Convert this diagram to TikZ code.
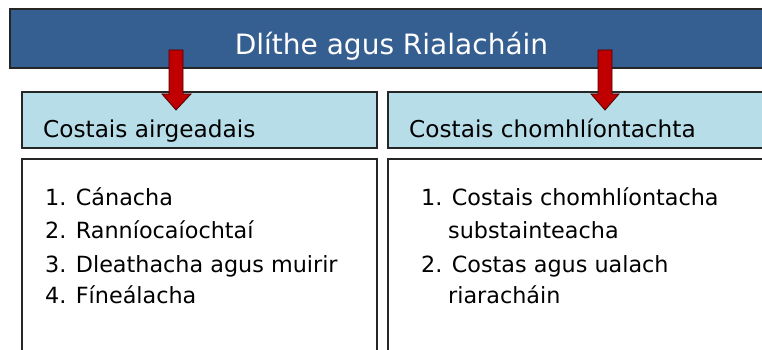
\documentclass[tikz,border=0pt]{standalone}
\usepackage{fontspec}
\setmainfont{DejaVu Sans}
\definecolor{banner}{HTML}{365F91}
\definecolor{hdr}{HTML}{B7DDE8}
\definecolor{arrred}{HTML}{C00000}
\begin{document}
\begin{tikzpicture}[x=1pt,y=-1pt,
  boxline/.style={draw=black!85,line width=1.2pt},
  listtxt/.style={anchor=base west,inner sep=0pt,font=\fontsize{22.3}{26}\selectfont},
  hdrtxt/.style={anchor=base west,inner sep=0pt,font=\fontsize{23.2}{27}\selectfont},
  blockarrow/.style={fill=arrred,draw=black!70!red,line width=0.8pt,line join=miter}]
\useasboundingbox (0,0) rectangle (762,350);
% banner
\fill[banner] (10,9) rectangle (775,68);
\draw[boxline] (775,9) -- (10,9) -- (10,68) -- (775,68);
\node[anchor=base,inner sep=0pt,text=white,font=\fontsize{28}{33}\selectfont] (title) at (391.5,55) {Dlíthe agus Rialacháin};
% header boxes
\draw[boxline,fill=hdr] (22,92) rectangle (377,148);
\draw[boxline,fill=hdr] (775,92) -- (388,92) -- (388,148) -- (775,148);
\node[hdrtxt] (h1) at (43,137) {Costais airgeadais};
\node[hdrtxt] (h2) at (409,137) {Costais chomhlíontachta};
% list boxes
\draw[boxline] (377,360) -- (377,159) -- (22,159) -- (22,360);
\draw[boxline] (775,159) -- (388,159) -- (388,360);
\node[listtxt] (a1) at (45,205) {1. Cánacha};
\node[listtxt] (a2) at (45,238) {2. Ranníocaíochtaí};
\node[listtxt] (a3) at (45,272) {3. Dleathacha agus muirir};
\node[listtxt] (a4) at (45,303) {4. Fíneálacha};
\node[listtxt] (b1) at (421,205) {1. Costais chomhlíontacha};
\node[listtxt] (b2) at (448,238) {substainteacha};
\node[listtxt] (b3) at (421,272) {2. Costas agus ualach};
\node[listtxt] (b4) at (448,303) {riaracháin};
% red block arrows
\draw[blockarrow] (169,50) -- (183,50) -- (183,94) -- (191,94) -- (176,110) -- (162,94) -- (169,94) -- cycle;
\draw[blockarrow] (598,50) -- (612,50) -- (612,94) -- (619,94) -- (605,110) -- (591,94) -- (598,94) -- cycle;
\end{tikzpicture}
\end{document}
